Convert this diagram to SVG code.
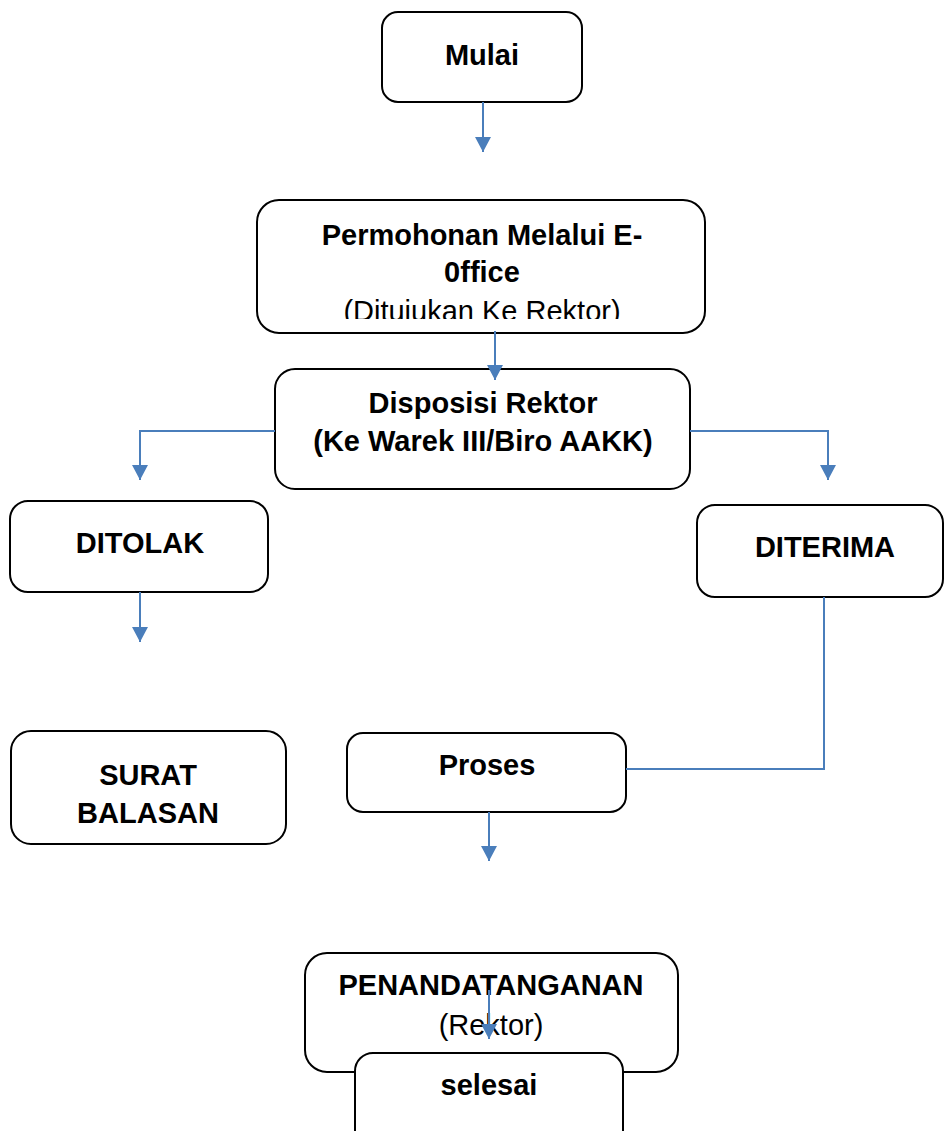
<svg xmlns="http://www.w3.org/2000/svg" width="944" height="1131" viewBox="0 0 944 1131">
<style>
.box{fill:#fff;stroke:#000;stroke-width:2}
.t{font-family:"Liberation Sans",Arial,sans-serif;font-size:29px;font-weight:bold;text-anchor:middle;fill:#000}
.r{font-weight:normal}
.c{fill:none;stroke:#4a7ebb;stroke-width:2}
</style>
<defs>
<marker id="ah" markerWidth="15" markerHeight="16" refX="15" refY="8" orient="auto" markerUnits="userSpaceOnUse" viewBox="0 0 15 16">
<path d="M0,0 L15,8 L0,16 Z" fill="#4a7ebb"/>
</marker>
<clipPath id="clipP"><rect x="257" y="200" width="448" height="119"/></clipPath>
</defs>
<rect width="944" height="1131" fill="#fff"/>

<g id="n-mulai">
<rect class="box" x="382" y="12" width="200" height="90" rx="16"/>
<text class="t" x="482" y="65">Mulai</text>
</g>
<g id="n-permohonan">
<rect class="box" x="257" y="200" width="448" height="133" rx="22"/>
<text class="t" x="482" y="245">Permohonan Melalui E-</text>
<text class="t" x="482" y="282">0ffice</text>
<text class="t r" x="482" y="321" clip-path="url(#clipP)">(Ditujukan Ke Rektor)</text>
</g>
<g id="n-disposisi">
<rect class="box" x="275" y="369" width="415" height="120" rx="20"/>
<text class="t" x="483" y="413">Disposisi Rektor</text>
<text class="t" x="483" y="451">(Ke Warek III/Biro AAKK)</text>
</g>
<g id="n-ditolak">
<rect class="box" x="10" y="501" width="258" height="91" rx="18"/>
<text class="t" x="140" y="553">DITOLAK</text>
</g>
<g id="n-diterima">
<rect class="box" x="697" y="505" width="246" height="92" rx="18"/>
<text class="t" x="825" y="557">DITERIMA</text>
</g>
<g id="n-surat">
<rect class="box" x="11" y="731" width="275" height="113" rx="20"/>
<text class="t" x="148" y="785">SURAT</text>
<text class="t" x="148" y="823">BALASAN</text>
</g>
<g id="n-proses">
<rect class="box" x="347" y="733" width="279" height="79" rx="16"/>
<text class="t" x="487" y="775">Proses</text>
</g>
<g id="n-penandatanganan">
<rect class="box" x="305" y="953" width="373" height="119" rx="22"/>
<text class="t" x="491" y="995">PENANDATANGANAN</text>
<text class="t r" x="491" y="1035">(Rektor)</text>
</g>

<g id="connectors">
<path class="c" d="M483,102 V152" marker-end="url(#ah)"/>
<path class="c" d="M495,331 V380" marker-end="url(#ah)"/>
<path class="c" d="M275,431 H140 V480" marker-end="url(#ah)"/>
<path class="c" d="M690,431 H828 V480" marker-end="url(#ah)"/>
<path class="c" d="M140,592 V642" marker-end="url(#ah)"/>
<path class="c" d="M824,597 V769 H626"/>
<path class="c" d="M489,812 V861" marker-end="url(#ah)"/>
<path class="c" d="M489,990 V1039" marker-end="url(#ah)"/>
</g>

<g id="n-selesai">
<rect class="box" x="355" y="1053" width="268" height="95" rx="18"/>
<text class="t" x="489" y="1095">selesai</text>
</g>
</svg>
